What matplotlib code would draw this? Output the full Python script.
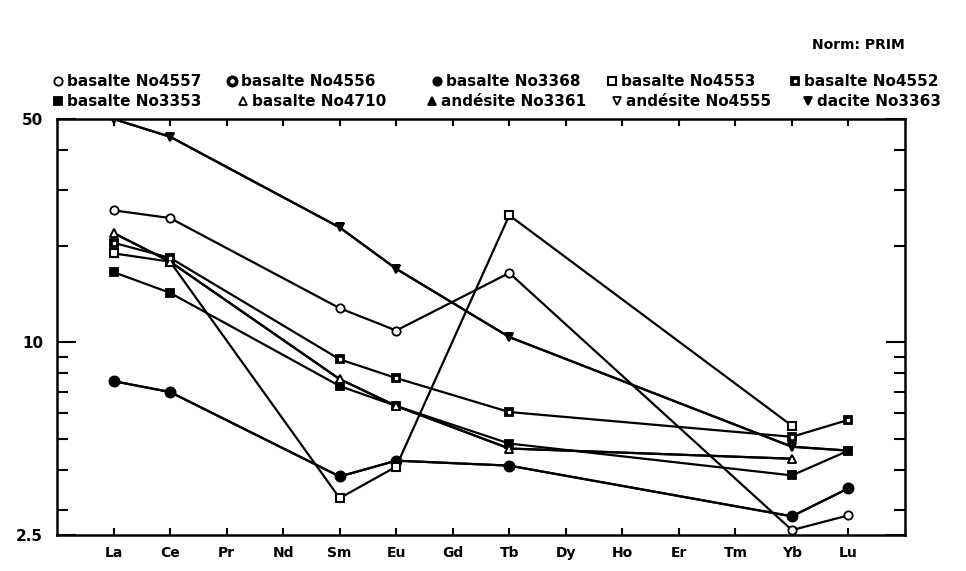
import matplotlib
matplotlib.use("Agg")
import matplotlib.pyplot as plt
import matplotlib.lines as mlines
import numpy as np

nan = np.nan

# REE pattern, normalised to primitive mantle
elements = ['La', 'Ce', 'Pr', 'Nd', 'Sm', 'Eu', 'Gd', 'Tb', 'Dy', 'Ho', 'Er', 'Tm', 'Yb', 'Lu']

#           La    Ce    Pr   Nd   Sm    Eu    Gd   Tb    Dy   Ho   Er   Tm   Yb    Lu
b4557 = [25.9, 24.5, nan, nan, 12.8, 10.9, nan, 16.5, nan, nan, nan, nan, 2.59, 2.88]
b4556 = [7.57, 7.0,  nan, nan, 3.81, 4.27, nan, 4.12, nan, nan, nan, nan, 2.86, 3.50]
b3368 = [7.57, 7.0,  nan, nan, 3.81, 4.27, nan, 4.12, nan, nan, nan, nan, 2.86, 3.50]
b4553 = [19.0, 17.9, nan, nan, 3.26, 4.09, nan, 25.0, nan, nan, nan, nan, 5.49, nan]
b4552 = [20.5, 18.4, nan, nan, 8.86, 7.74, nan, 6.06, nan, nan, nan, nan, 5.07, 5.73]
b3353 = [16.6, 14.3, nan, nan, 7.31, 6.33, nan, 4.83, nan, nan, nan, nan, 3.84, 4.59]
b4710 = [22.0, 17.9, nan, nan, 7.68, 6.33, nan, 4.66, nan, nan, nan, nan, 4.33, nan]
a3361 = [22.0, 17.9, nan, nan, 7.68, 6.33, nan, 4.66, nan, nan, nan, nan, 4.33, nan]
a4555 = [50.0, 44.0, nan, nan, 22.9, 17.0, nan, 10.4, nan, nan, nan, nan, 4.72, 4.59]
d3363 = [50.0, 44.0, nan, nan, 22.9, 17.0, nan, 10.4, nan, nan, nan, nan, 4.72, 4.59]

names = ['basalte No4557', 'basalte No4556', 'basalte No3368', 'basalte No4553', 'basalte No4552',
         'basalte No3353', 'basalte No4710', 'andésite No3361', 'andésite No4555', 'dacite No3363']
series = [b4557, b4556, b3368, b4553, b4552, b3353, b4710, a3361, a4555, d3363]

# marker styles: (marker, face colour, edge width)
styles = [('o', 'white', 1.3), ('o', 'white', 2.6), ('o', 'black', 1.3), ('s', 'white', 1.5),
          ('s', 'black', 1.3), ('s', 'black', 1.3), ('^', 'white', 1.3), ('^', 'black', 1.3),
          ('v', 'white', 1.3), ('v', 'black', 1.3)]

fig = plt.figure(figsize=(9.66, 5.71), dpi=100)
ax = fig.add_axes([57 / 966, 36 / 571, 848 / 966, 416 / 571])

x = np.arange(len(elements))
# hidden duplicates first so the visible markers sit on top
order = [1, 7, 8, 0, 2, 3, 4, 5, 6, 9]
for i in order:
    y = np.array(series[i], dtype=float)
    ok = ~np.isnan(y)
    m, fc, mew = styles[i]
    ax.plot(x[ok], y[ok], color='black', lw=1.6, marker=m, ms=6,
            mfc=fc, mec='black', mew=mew, zorder=3)
    if i == 4:
        ax.plot(x[ok], y[ok], ls='none', marker='s', ms=2, mfc='white', mec='white', zorder=4)

ax.set_yscale('log')
ax.set_ylim(2.5, 50)
ax.set_xlim(-1, 14)
ax.set_xticks(x)
ax.set_xticklabels(elements, fontsize=10, fontweight='bold')
ax.set_yticks([2.5, 10, 50])
ax.set_yticklabels(['2.5', '10', '50'], fontsize=11, fontweight='bold')
ax.set_yticks([3, 4, 5, 6, 7, 8, 9, 20, 30, 40], minor=True)
ax.yaxis.set_minor_formatter(matplotlib.ticker.NullFormatter())

ax.tick_params(axis='x', direction='in', top=True, length=5, width=1.5, pad=8)
ax.tick_params(axis='y', which='major', direction='in', right=True, length=14, width=1.5, pad=10)
ax.tick_params(axis='y', which='minor', direction='in', right=True, length=8, width=1.5)
for s in ax.spines.values():
    s.set_linewidth(1.8)

# legend drawn by hand, two rows like the original
leg_pos = [(58, 81), (232, 81), (437, 81), (612, 81), (795, 81),
           (58, 101), (243, 101), (432, 101), (617, 101), (808, 101)]
for i, (px, py) in enumerate(leg_pos):
    fx, fy = px / 966, 1 - py / 571
    m, fc, mew = styles[i]
    fig.add_artist(mlines.Line2D([fx], [fy], marker=m, ms=6, mfc=fc, mec='black', mew=mew,
                                 transform=fig.transFigure))
    if i == 4:
        fig.add_artist(mlines.Line2D([fx], [fy], marker='s', ms=2, mfc='white', mec='white',
                                     transform=fig.transFigure))
    fig.text(fx + 9 / 966, fy, names[i], fontsize=11, fontweight='bold', va='center', ha='left')

fig.text(905 / 966, 1 - 45 / 571, 'Norm: PRIM', fontsize=10, fontweight='bold', ha='right', va='center')

fig.savefig('out.png', dpi=100)
